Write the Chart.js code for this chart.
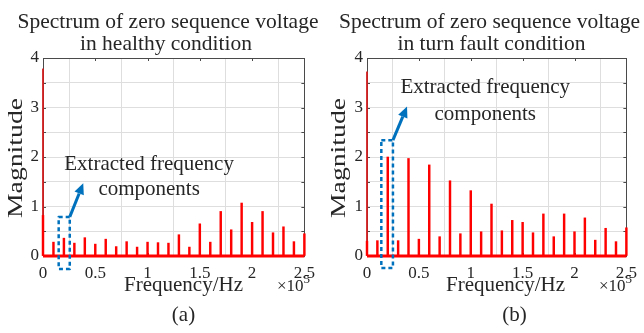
<!DOCTYPE html>
<html>
<head>
<meta charset="utf-8">
<script src="https://cdn.jsdelivr.net/npm/chart.js@4.4.1/dist/chart.umd.min.js"></script>
<style>
  html, body { margin: 0; padding: 0; background: #ffffff; }
  #wrap { position: relative; width: 644px; height: 333px; overflow: hidden; }
  .panel { position: absolute; top: 0; width: 322px; height: 333px; }
</style>
</head>
<body>
<div id="wrap">
  <div class="panel" style="left:0"><canvas id="c1" width="322" height="333"></canvas></div>
  <div class="panel" style="left:322px"><canvas id="c2" width="322" height="333"></canvas></div>
</div>
<script>
// ---------------- data ----------------
const frequenciesHz = [0, 10000, 20000, 30000, 40000, 50000, 60000, 70000, 80000, 90000,
  100000, 110000, 120000, 130000, 140000, 150000, 160000, 170000, 180000, 190000,
  200000, 210000, 220000, 230000, 240000, 250000];
const healthyMagnitude = [0.82, 0.28, 0.36, 0.26, 0.37, 0.24, 0.34, 0.19, 0.29, 0.18,
  0.28, 0.27, 0.26, 0.43, 0.18, 0.65, 0.28, 0.90, 0.53, 1.07,
  0.68, 0.90, 0.47, 0.59, 0.29, 0.45];
const faultMagnitude = [0.30, 0.31, 2.00, 0.31, 1.97, 0.34, 1.84, 0.39, 1.52, 0.45,
  1.32, 0.49, 1.05, 0.51, 0.72, 0.68, 0.47, 0.85, 0.39, 0.85,
  0.49, 0.77, 0.32, 0.56, 0.29, 0.57];
const dcMagnitude = [3.78, 3.72];            // DC line (healthy, fault)
const xTickLabels = ['0', '0.5', '1', '1.5', '2', '2.5'];
const yTickLabels = ['0', '1', '2', '3', '4'];
const panelTitles = [
  ['Spectrum of zero sequence voltage', 'in healthy condition'],
  ['Spectrum of zero sequence voltage', 'in turn fault condition']
];
const panelCaptions = ['(a)', '(b)'];
const annotationText = ['Extracted frequency', 'components'];

// ---------------- layout / style ----------------
const SERIF = '"Liberation Serif", "Times New Roman", serif';
const TEXT = '#262626';
const BLUE = 'rgb(0,114,189)';
const RED = '#ff0000';

const layouts = [
  { yAxisWidth: 43, padRight: 17,
    title: [[168, 28], [166, 50]], xlabel: [183.5, 291], times: 277, caption: [183.5, 321],
    ylabel: [16, 158],
    box: { x0: 15000, x1: 25600, yTop: 0.79, yBottomPx: 269 },
    arrow: { x0: 25600, y0: 0.79, x1: 38500, y1: 1.47 },
    text: { x: 101500, y1: 1.74, y2: 1.23 } },
  { yAxisWidth: 45, padRight: 16,
    title: [[167.5, 28], [169.5, 50]], xlabel: [183.5, 291], times: 277, caption: [192.5, 321],
    ylabel: [17, 158],
    box: { x0: 13800, x1: 25000, yTop: 2.34, yBottomPx: 268 },
    arrow: { x0: 25000, y0: 2.34, x1: 38600, y1: 3.02 },
    text: { x: 114000, y1: 3.29, y2: 2.75 } }
];

function drawArrow(ctx, x0, y0, x1, y1) {
  const ang = Math.atan2(y1 - y0, x1 - x0);
  const headLen = 11, headW = 5;
  const bx = x1 - headLen * Math.cos(ang), by = y1 - headLen * Math.sin(ang);
  ctx.strokeStyle = BLUE; ctx.fillStyle = BLUE;
  ctx.lineWidth = 3; ctx.setLineDash([]);
  ctx.beginPath(); ctx.moveTo(x0, y0); ctx.lineTo(bx, by); ctx.stroke();
  ctx.beginPath();
  ctx.moveTo(x1, y1);
  ctx.lineTo(bx + headW * Math.sin(ang), by - headW * Math.cos(ang));
  ctx.lineTo(bx - headW * Math.sin(ang), by + headW * Math.cos(ang));
  ctx.closePath(); ctx.fill();
}

const framePlugin = {
  id: 'frame',
  beforeDatasetsDraw(chart) {
    const { ctx, chartArea: a, scales: { x, y } } = chart;
    ctx.save();
    ctx.strokeStyle = '#4a4a4a'; ctx.lineWidth = 1;
    for (let v = 0; v <= 4.0001; v += 0.5) {
      const py = Math.round(y.getPixelForValue(v)) + 0.5;
      ctx.beginPath();
      ctx.moveTo(a.left, py); ctx.lineTo(a.left + 3, py);
      ctx.moveTo(a.right - 3, py); ctx.lineTo(a.right, py);
      ctx.stroke();
    }
    for (let v = 0; v <= 250000; v += 50000) {
      const px = Math.round(x.getPixelForValue(v)) + 0.5;
      ctx.beginPath();
      ctx.moveTo(px, a.top); ctx.lineTo(px, a.top + 3);
      ctx.moveTo(px, a.bottom - 3); ctx.lineTo(px, a.bottom);
      ctx.stroke();
    }
    ctx.strokeRect(Math.round(a.left) + 0.5, Math.round(a.top) + 0.5,
      Math.round(a.right - a.left), Math.round(a.bottom - a.top));
    ctx.restore();
  },
  afterDraw(chart, args, opts) {
    const L = opts.layout, idx = opts.index;
    const { ctx, scales: { x, y } } = chart;
    ctx.save();
    ctx.fillStyle = TEXT;
    ctx.textBaseline = 'alphabetic';
    ctx.textAlign = 'center';
    ctx.font = '21.5px ' + SERIF;
    panelTitles[idx].forEach((t, i) => ctx.fillText(t, L.title[i][0], L.title[i][1]));
    ctx.font = '21px ' + SERIF;
    ctx.fillText('Frequency/Hz', L.xlabel[0], L.xlabel[1]);
    ctx.fillText(panelCaptions[idx], L.caption[0], L.caption[1]);
    ctx.textAlign = 'left';
    ctx.font = '17px ' + SERIF;
    ctx.fillText('\u00d710', L.times, L.xlabel[1]);
    const w = ctx.measureText('\u00d710').width;
    ctx.font = '13px ' + SERIF;
    ctx.fillText('5', L.times + w, L.xlabel[1] - 8);
    // y label (stretched along its length like the reference)
    ctx.save();
    ctx.translate(L.ylabel[0], L.ylabel[1]);
    ctx.rotate(-Math.PI / 2);
    ctx.scale(1.32, 1);
    ctx.font = '21px ' + SERIF;
    ctx.textAlign = 'center';
    ctx.textBaseline = 'middle';
    ctx.fillText('Magnitude', 0, 0);
    ctx.restore();
    // annotation text
    ctx.font = '21px ' + SERIF;
    ctx.textAlign = 'center';
    ctx.fillStyle = TEXT;
    const tx = x.getPixelForValue(L.text.x);
    ctx.fillText(annotationText[0], tx, y.getPixelForValue(L.text.y1));
    ctx.fillText(annotationText[1], tx, y.getPixelForValue(L.text.y2));
    // dashed box
    const bx0 = x.getPixelForValue(L.box.x0), bx1 = x.getPixelForValue(L.box.x1);
    const by0 = y.getPixelForValue(L.box.yTop), by1 = L.box.yBottomPx;
    ctx.strokeStyle = BLUE; ctx.lineWidth = 2.5;
    ctx.setLineDash([4, 3]);
    ctx.lineJoin = 'round';
    ctx.strokeRect(bx0, by0, bx1 - bx0, by1 - by0);
    drawArrow(ctx, x.getPixelForValue(L.arrow.x0), y.getPixelForValue(L.arrow.y0),
      x.getPixelForValue(L.arrow.x1), y.getPixelForValue(L.arrow.y1));
    ctx.restore();
  }
};

function makeChart(canvasId, idx, magnitudes) {
  const L = layouts[idx];
  const spikes = frequenciesHz.map((f, i) => ({ x: f, y: magnitudes[i] }));
  return new Chart(document.getElementById(canvasId), {
    type: 'bar',
    data: {
      datasets: [
        { type: 'bar', data: spikes, backgroundColor: RED, barThickness: 1.8,
          grouped: false, order: 2, clip: false },
        { type: 'bar', data: [{ x: frequenciesHz[0], y: dcMagnitude[idx] }],
          backgroundColor: 'rgba(210,30,30,0.9)', barThickness: 1.4, grouped: false,
          order: 3, clip: false },
        { type: 'line', data: [{ x: frequenciesHz[0], y: 0 },
          { x: frequenciesHz[frequenciesHz.length - 1], y: 0 }],
          borderColor: RED, borderWidth: 3, pointRadius: 0, order: 1, clip: false }
      ]
    },
    options: {
      responsive: false,
      animation: false,
      devicePixelRatio: 1,
      layout: { padding: { top: 58, right: L.padRight, bottom: 0, left: 0 } },
      plugins: {
        legend: { display: false },
        tooltip: { enabled: false },
        frame: { layout: L, index: idx }
      },
      scales: {
        x: {
          type: 'linear', min: 0, max: 250000, offset: false,
          grid: { color: '#dedede', drawTicks: false, lineWidth: 1 },
          border: { display: false },
          ticks: {
            stepSize: 50000, autoSkip: false, maxRotation: 0, padding: 7,
            color: TEXT, font: { family: SERIF, size: 17 },
            callback: (v) => xTickLabels[Math.round(v / 50000)] ?? ''
          },
          afterFit: (s) => { s.height = 77; }
        },
        y: {
          min: 0, max: 4,
          grid: { color: '#dedede', drawTicks: false, lineWidth: 1 },
          border: { display: false },
          ticks: {
            stepSize: 0.5, padding: 4,
            color: TEXT, font: { family: SERIF, size: 17 },
            callback: (v) => Number.isInteger(v) ? yTickLabels[v] : ''
          },
          afterFit: (s) => { s.width = L.yAxisWidth; }
        }
      }
    },
    plugins: [framePlugin]
  });
}

makeChart('c1', 0, healthyMagnitude);
makeChart('c2', 1, faultMagnitude);
</script>
</body>
</html>
